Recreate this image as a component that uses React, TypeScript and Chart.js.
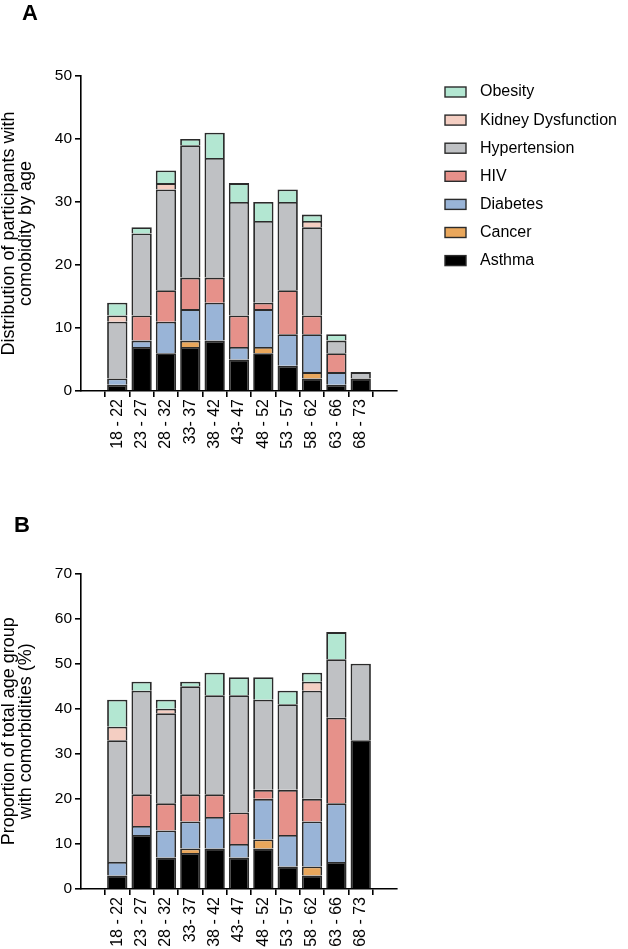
import React, { useEffect, useRef } from 'react';
import { Chart, registerables } from 'chart.js';

Chart.register(...registerables);

const FONT = 'Arial, "Liberation Sans", Helvetica, sans-serif';

const ageGroups = ['18 - 22', '23 - 27', '28 - 32', '33- 37', '38 - 42', '43- 47', '48 - 52', '53 - 57', '58 - 62', '63 - 66', '68 - 73'];
const conditions = ['Asthma', 'Cancer', 'Diabetes', 'HIV', 'Hypertension', 'Kidney Dysfunction', 'Obesity'];
const colors = ['#000000', '#e9a75c', '#99b4d7', '#e6918a', '#bfc1c4', '#f4cec2', '#b3e7d2'];

// Panel A: number of participants
const asthmaA = [1, 7, 6, 7, 8, 5, 6, 4, 2, 1, 2];
const cancerA = [0, 0, 0, 1, 0, 0, 1, 0, 1, 0, 0];
const diabetesA = [1, 1, 5, 5, 6, 2, 6, 5, 6, 2, 0];
const hivA = [0, 4, 5, 5, 4, 5, 1, 7, 3, 3, 0];
const hypertensionA = [9, 13, 16, 21, 19, 18, 13, 14, 14, 2, 1];
const kidneyA = [1, 0, 1, 0, 0, 0, 0, 0, 1, 0, 0];
const obesityA = [2, 1, 2, 1, 4, 3, 3, 2, 1, 1, 0];

// Panel B: proportion (%)
const asthmaB = [3, 12, 7, 8, 9, 7, 9, 5, 3, 6, 33];
const cancerB = [0, 0, 0, 1, 0, 0, 2, 0, 2, 0, 0];
const diabetesB = [3, 2, 6, 6, 7, 3, 9, 7, 10, 13, 0];
const hivB = [0, 7, 6, 6, 5, 7, 2, 10, 5, 19, 0];
const hypertensionB = [27, 23, 20, 24, 22, 26, 20, 19, 24, 13, 17];
const kidneyB = [3, 0, 1, 0, 0, 0, 0, 0, 2, 0, 0];
const obesityB = [6, 2, 2, 1, 5, 4, 5, 3, 2, 6, 0];

const yTicksA = { max: 50, step: 10 };
const yTicksB = { max: 70, step: 10 };

const titleA = ['Distribution of participants with', 'comobidity by age'];
const titleB = ['Proportion of total age group', 'with comorbidities (%)'];

const sideLegend = {
  id: 'sideLegend',
  afterDraw(chart: any, _args: any, opts: any) {
    if (!opts || !opts.show) return;
    const { ctx, chartArea } = chart;
    const ds = chart.data.datasets;
    ctx.save();
    ctx.font = '16px ' + FONT;
    ctx.textBaseline = 'middle';
    ctx.textAlign = 'left';
    const x0 = chartArea.right + 48;
    let y = chartArea.top + 16;
    for (let i = ds.length - 1; i >= 0; i--) {
      ctx.fillStyle = ds[i].backgroundColor;
      ctx.fillRect(x0, y - 5, 21, 10);
      ctx.lineWidth = 1.4;
      ctx.strokeStyle = '#2b2b2b';
      ctx.strokeRect(x0, y - 5, 21, 10);
      ctx.fillStyle = '#000';
      ctx.fillText(ds[i].label, x0 + 35, y);
      y += 28.1;
    }
    ctx.restore();
  },
};

function buildChart(canvas: HTMLCanvasElement, series: number[][], yt: { max: number; step: number }, title: string[], padTop: number, padBottom: number, showLegend: boolean) {
  return new Chart(canvas, {
    type: 'bar',
    data: {
      datasets: series.map((vals, k) => ({
        label: conditions[k],
        data: vals.map((v, i) => ({ x: i, y: v })),
        backgroundColor: colors[k],
        borderColor: '#2b2b2b',
        borderWidth: 1.8,
        categoryPercentage: 1,
        barPercentage: 0.835,
      })),
    },
    options: {
      responsive: false,
      animation: false,
      events: [],
      layout: { padding: { top: padTop, bottom: padBottom, left: 0, right: 231 } },
      plugins: {
        legend: { display: false },
        tooltip: { enabled: false },
        sideLegend: { show: showLegend },
      } as any,
      scales: {
        x: {
          type: 'linear',
          stacked: true,
          min: -0.9,
          max: ageGroups.length - 0.1,
          afterBuildTicks: (scale: any) => {
            scale.ticks = ageGroups.map((_, i) => ({ value: i }));
          },
          afterFit: (scale: any) => {
            scale.height = 60;
          },
          grid: { display: true, drawOnChartArea: false, drawTicks: true, tickLength: 6, color: '#000', lineWidth: 1.6 },
          border: { display: true, color: '#000', width: 1.6 },
          ticks: {
            autoSkip: false,
            maxRotation: 90,
            minRotation: 90,
            padding: 2,
            color: '#000',
            font: { family: FONT, size: 16 },
            callback: (v: any) => ageGroups[v as number] ?? '',
          },
        },
        y: {
          type: 'linear',
          stacked: true,
          min: 0,
          max: yt.max,
          afterFit: (scale: any) => {
            scale.width = 81;
          },
          grid: { display: true, drawOnChartArea: false, drawTicks: true, tickLength: 6, color: '#000', lineWidth: 1.6 },
          border: { display: true, color: '#000', width: 1.6 },
          ticks: { stepSize: yt.step, padding: 3, color: '#000', font: { family: FONT, size: 15.5 } },
          title: {
            display: true,
            text: title,
            color: '#000',
            font: { family: FONT, size: 18, lineHeight: 0.95 },
            padding: { top: 0, bottom: 0 },
          },
        },
      },
    },
    plugins: [sideLegend],
  });
}

export default function App() {
  const refA = useRef<HTMLCanvasElement | null>(null);
  const refB = useRef<HTMLCanvasElement | null>(null);

  useEffect(() => {
    const a = buildChart(refA.current!, [asthmaA, cancerA, diabetesA, hivA, hypertensionA, kidneyA, obesityA], yTicksA, titleA, 76, 19, true);
    const b = buildChart(refB.current!, [asthmaB, cancerB, diabetesB, hivB, hypertensionB, kidneyB, obesityB], yTicksB, titleB, 103.5, 0, false);
    return () => {
      a.destroy();
      b.destroy();
    };
  }, []);

  const letter: React.CSSProperties = { position: 'absolute', fontFamily: FONT, fontWeight: 'bold', fontSize: 22, lineHeight: 1, color: '#000' };

  return (
    <div style={{ position: 'absolute', left: 0, top: 0, width: 628, height: 949, background: '#fff', overflow: 'hidden' }}>
      <canvas ref={refA} width={628} height={470} style={{ position: 'absolute', left: 0, top: 0 }} />
      <canvas ref={refB} width={628} height={479} style={{ position: 'absolute', left: 0, top: 470 }} />
      <div style={{ ...letter, left: 22, top: 2 }}>A</div>
      <div style={{ ...letter, left: 14, top: 514 }}>B</div>
    </div>
  );
}
